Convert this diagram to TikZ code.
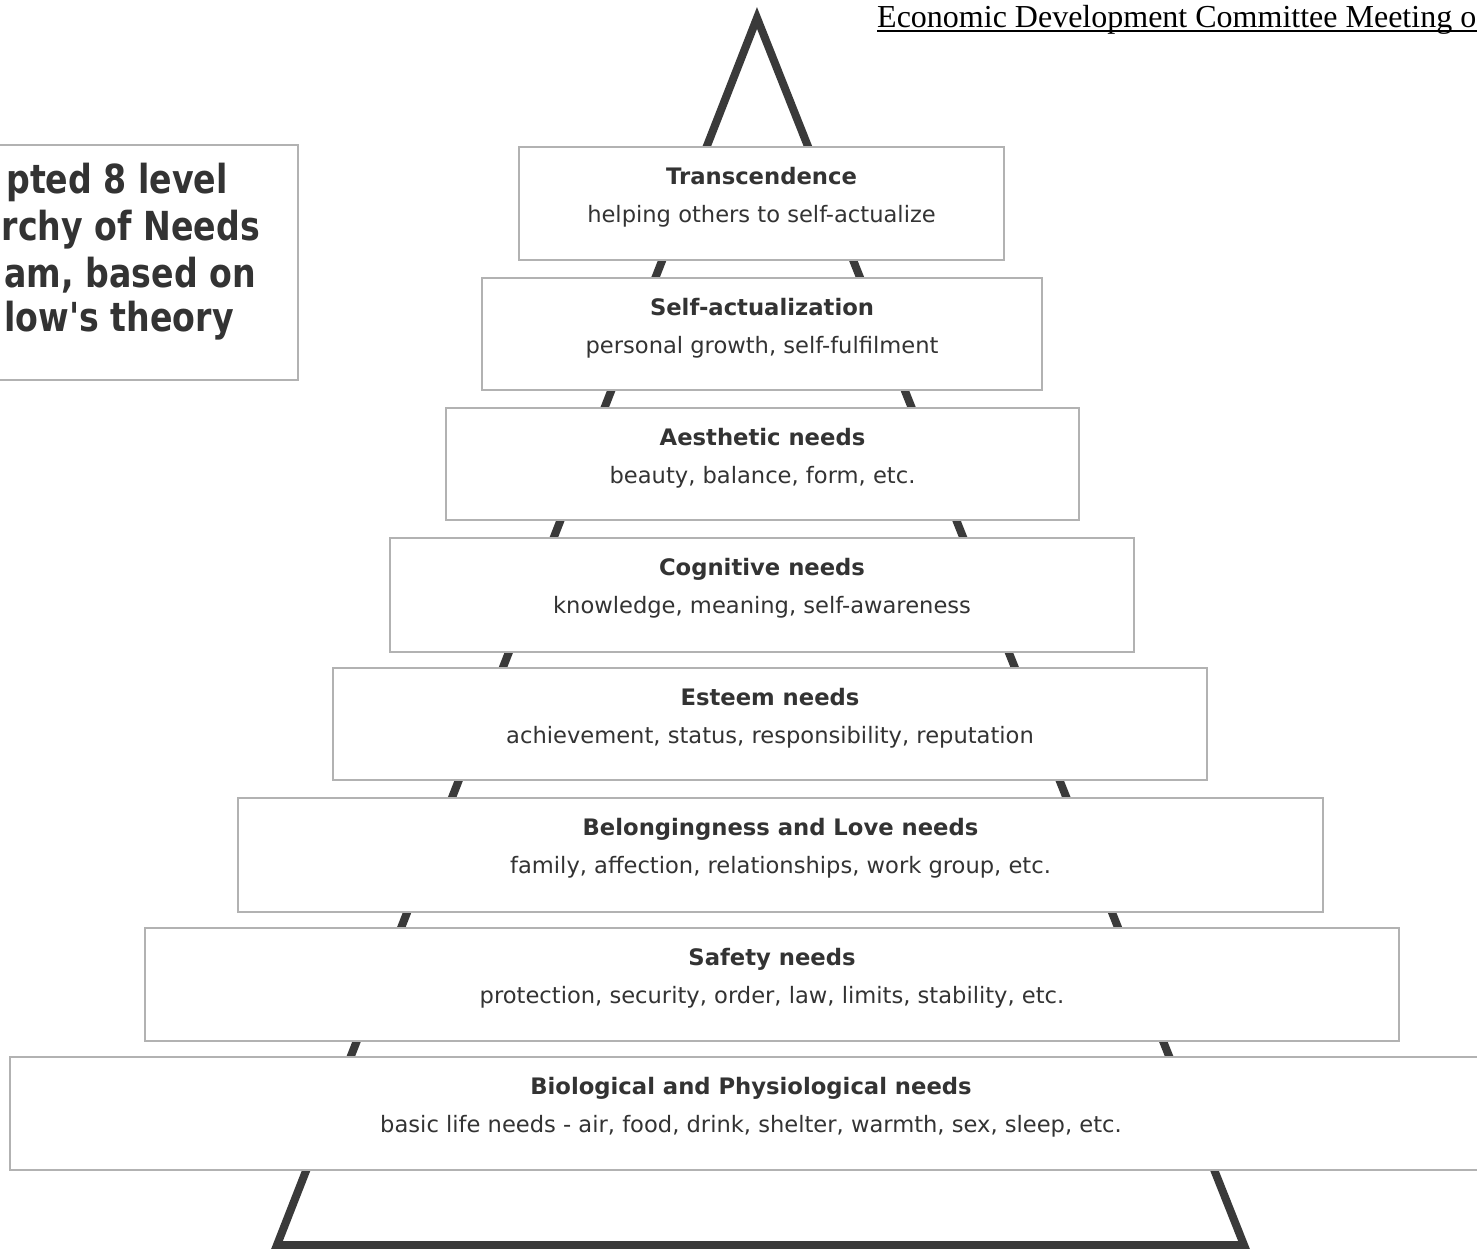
\documentclass[tikz,border=0pt]{standalone}
\usepackage{fontspec}
\setmainfont{DejaVu Sans}
\newfontfamily\titlefont[FakeStretch=0.83]{DejaVu Sans}
\newfontfamily\headfont{Liberation Serif}
\usetikzlibrary{calc}
\definecolor{pyr}{HTML}{3A3A3A}
\definecolor{boxline}{HTML}{B2B2B2}
\definecolor{txt}{HTML}{333333}
\begin{document}
\begin{tikzpicture}[x=1pt,y=-1pt,
  levelbox/.style={draw=boxline, line width=1.8pt, fill=white, inner sep=0pt, outer sep=0pt, anchor=north west},
  ttl/.style={anchor=base, inner sep=0pt, text=txt, font=\fontsize{22.7}{27}\selectfont\bfseries},
  sub/.style={anchor=base, inner sep=0pt, text=txt, font=\fontsize{22.6}{27}\selectfont},
  bigttl/.style={anchor=base east, inner sep=0pt, text=txt, font=\titlefont\bfseries\fontsize{40}{46}\selectfont},
  pyrline/.style={draw=pyr, line width=8pt, line join=miter}
]
\useasboundingbox (0,0) rectangle (1477,1248);
\clip (0,0) rectangle (1477,1248);
\fill[white] (0,0) rectangle (1477,1248);

% pyramid outline
\coordinate (apex) at (757,18);
\coordinate (bl) at (277,1245);
\coordinate (br) at (1244,1245);
\draw[pyrline] (apex) -- (bl) -- (br) -- cycle;

% level boxes
\node[levelbox, minimum width=485, minimum height=113] (b1) at (519,147) {};
\node[levelbox, minimum width=560, minimum height=112] (b2) at (482,278) {};
\node[levelbox, minimum width=633, minimum height=112] (b3) at (446,408) {};
\node[levelbox, minimum width=744, minimum height=114] (b4) at (390,538) {};
\node[levelbox, minimum width=874, minimum height=112] (b5) at (333,668) {};
\node[levelbox, minimum width=1085, minimum height=114] (b6) at (238,798) {};
\node[levelbox, minimum width=1254, minimum height=113] (b7) at (145,928) {};
\node[levelbox, minimum width=1482, minimum height=113] (b8) at (10,1057) {};

% texts
\node[ttl] (t1) at ($(b1.north)+(0,37)$) {Transcendence};
\node[sub] (s1) at ($(b1.north)+(0,75)$) {helping others to self-actualize};
\node[ttl] (t2) at ($(b2.north)+(0,37)$) {Self-actualization};
\node[sub] (s2) at ($(b2.north)+(0,75)$) {personal growth, self-fulfilment};
\node[ttl] (t3) at ($(b3.north)+(0,37)$) {Aesthetic needs};
\node[sub] (s3) at ($(b3.north)+(0,75)$) {beauty, balance, form, etc.};
\node[ttl] (t4) at ($(b4.north)+(0,37)$) {Cognitive needs};
\node[sub] (s4) at ($(b4.north)+(0,75)$) {knowledge, meaning, self-awareness};
\node[ttl] (t5) at ($(b5.north)+(0,37)$) {Esteem needs};
\node[sub] (s5) at ($(b5.north)+(0,75)$) {achievement, status, responsibility, reputation};
\node[ttl] (t6) at ($(b6.north)+(0,37)$) {Belongingness and Love needs};
\node[sub] (s6) at ($(b6.north)+(0,75)$) {family, affection, relationships, work group, etc.};
\node[ttl] (t7) at ($(b7.north)+(0,37)$) {Safety needs};
\node[sub] (s7) at ($(b7.north)+(0,75)$) {protection, security, order, law, limits, stability, etc.};
\node[ttl] (t8) at ($(b8.north)+(0,37)$) {Biological and Physiological needs};
\node[sub] (s8) at ($(b8.north)+(0,75)$) {basic life needs - air, food, drink, shelter, warmth, sex, sleep, etc.};

% title box
\node[levelbox, minimum width=320, minimum height=235] (tb) at (-22,145) {};
\node[bigttl] (h1) at (228,193) {pted 8 level};
\node[bigttl] (h2) at (260,240) {rchy of Needs};
\node[bigttl] (h3) at (256,287) {am, based on};
\node[bigttl] (h4) at (234,331) {low's theory};

% header
\node[anchor=base west, inner sep=0pt, font=\headfont\fontsize{32}{36}\selectfont] (hd) at (877,27) {Economic Development Committee Meeting o};
\coordinate (hdend) at (1477,31);
\draw[line width=2pt] ([yshift=-4pt]hd.base west) -- (hdend);
\end{tikzpicture}
\end{document}
